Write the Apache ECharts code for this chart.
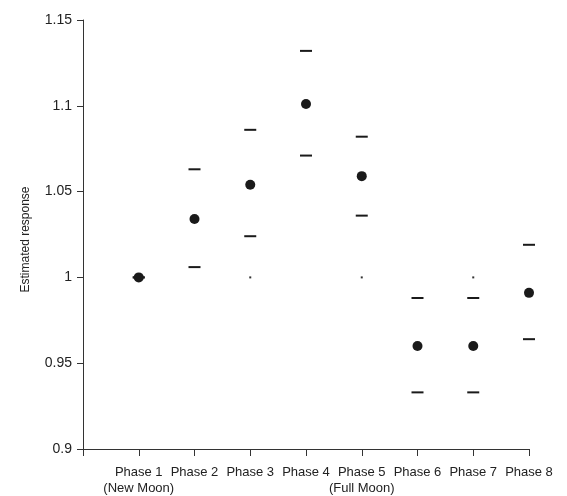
<!DOCTYPE html>
<html>
<head>
<meta charset="utf-8">
<script src="https://cdn.jsdelivr.net/npm/echarts@6/dist/echarts.min.js"></script>
<style>
  html, body { margin: 0; padding: 0; background: #fff; }
  #chart { width: 567px; height: 496px; }
</style>
</head>
<body>
<div id="chart"></div>
<script>
// Lunar phase categories (tick labels on the x axis)
const phaseLabels = [
  'Phase 1\n(New Moon)', 'Phase 2', 'Phase 3', 'Phase 4',
  'Phase 5\n(Full Moon)', 'Phase 6', 'Phase 7', 'Phase 8'
];
// Point estimates and confidence bounds per phase
const estimate = [1.000, 1.034, 1.054, 1.101, 1.059, 0.960, 0.960, 0.991];
const upper    = [1.000, 1.063, 1.086, 1.132, 1.082, 0.988, 0.988, 1.019];
const lower    = [1.000, 1.006, 1.024, 1.071, 1.036, 0.933, 0.933, 0.964];
// Small reference marks at 1.0
const refMarks = [null, null, 1.000, null, 1.000, null, 1.000, null];
// Y axis tick range
const yMin = 0.9, yMax = 1.15, yStep = 0.05;

const toPts = arr => arr.map((v, i) => v == null ? null : [i + 1, v]).filter(p => p);

const ink = '#1a1a1a';
const font = "'Liberation Sans', Arial, Helvetica, sans-serif";

const chart = echarts.init(document.getElementById('chart'), null, { renderer: 'canvas' });
chart.setOption({
  animation: false,
  backgroundColor: '#ffffff',
  grid: { left: 83, right: 38, top: 20, bottom: 47, containLabel: false },
  xAxis: {
    type: 'value',
    min: 0, max: 8, interval: 1,
    axisLine: { show: true, lineStyle: { color: '#333', width: 1 } },
    axisTick: { show: true, inside: false, length: 7, lineStyle: { color: '#333' } },
    splitLine: { show: false },
    axisLabel: {
      margin: 15,
      color: '#222',
      fontFamily: font,
      fontSize: 13,
      lineHeight: 16,
      formatter: v => phaseLabels[v - 1] || ''
    }
  },
  yAxis: {
    type: 'value',
    min: yMin, max: yMax, interval: yStep,
    name: 'Estimated response',
    nameLocation: 'middle',
    nameGap: 51,
    nameTextStyle: { color: '#222', fontFamily: font, fontSize: 12, padding: [0, 10, 0, 0] },
    axisLine: { show: true, lineStyle: { color: '#333', width: 1 } },
    axisTick: { show: true, inside: false, length: 6, lineStyle: { color: '#333' } },
    splitLine: { show: false },
    axisLabel: {
      margin: 11,
      color: '#222',
      fontFamily: font,
      fontSize: 14,
      formatter: v => String(parseFloat(v.toFixed(2)))
    }
  },
  series: [
    {
      name: 'Upper bound', type: 'scatter',
      symbol: 'rect', symbolSize: [12, 2],
      itemStyle: { color: ink, opacity: 1 },
      data: toPts(upper)
    },
    {
      name: 'Lower bound', type: 'scatter',
      symbol: 'rect', symbolSize: [12, 2],
      itemStyle: { color: ink, opacity: 1 },
      data: toPts(lower)
    },
    {
      name: 'Reference', type: 'scatter',
      symbol: 'rect', symbolSize: 2,
      itemStyle: { color: '#333', opacity: 1 },
      data: toPts(refMarks)
    },
    {
      name: 'Estimate', type: 'scatter',
      symbol: 'circle', symbolSize: 10,
      itemStyle: { color: ink, opacity: 1 },
      z: 5,
      data: toPts(estimate)
    }
  ]
});
</script>
</body>
</html>
